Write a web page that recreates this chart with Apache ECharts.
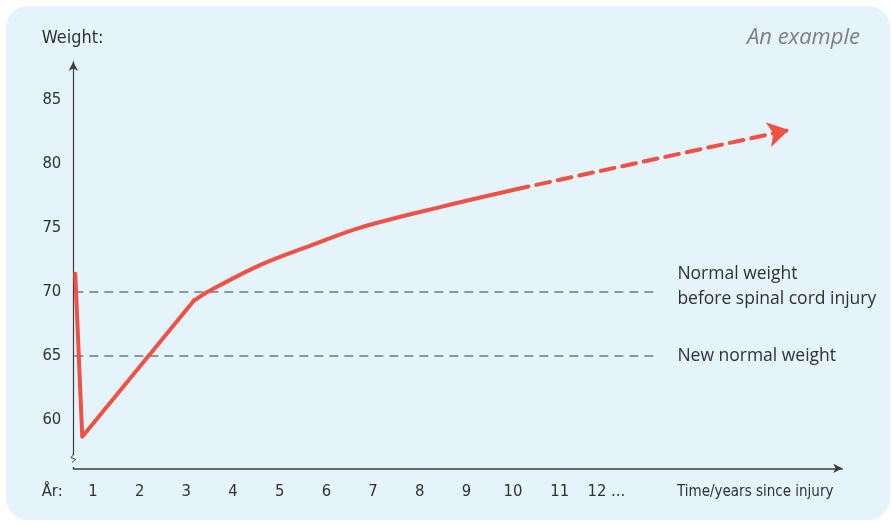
<!DOCTYPE html>
<html><head><meta charset="utf-8">
<script src="https://cdn.jsdelivr.net/npm/echarts@6/dist/echarts.min.js"></script>
<style>
html,body{margin:0;padding:0;background:#fff;overflow:hidden;}
#panel{position:absolute;left:6px;top:6px;width:884px;height:514px;background:#E5F4FB;border-radius:22px;}
#chart{position:absolute;left:0;top:0;width:892px;height:525px;}
</style></head><body>
<div id="panel"></div><div id="chart"></div>
<script>
// ---- data ----
const tickYears = [1, 2, 3, 4, 5, 6, 7, 8, 9, 10, 11, 12];
const tickWeights = [60, 65, 70, 75, 80, 85];
const dropYears = [0.62, 0.77, 3.16];
const dropWeights = [71.4, 58.7, 69.3];
const recoveryYears = [3.16, 3.51, 4.59, 5.66, 6.73, 8.44, 10.33];
const recoveryWeights = [69.3, 70.1, 72.1, 73.6, 75.0, 76.6, 78.2];
const trendYears = [10.33, 15.91];
const trendWeights = [78.2, 82.6];
const referenceWeights = [70, 65];
const referenceLabels = ['Normal weight\nbefore spinal cord injury', 'New normal weight'];
const referenceYears = [0.6, 13.05];
const yearRange = [0.578, 17.055];
const weightRange = [56.24, 87.93];

const RED = '#EF5145';
const INK = '#2f3133';
const NARROW = "'Liberation Sans Narrow','DejaVu Sans Condensed','Roboto Condensed',sans-serif";
const BG = '#E5F4FB';

const chart = echarts.init(document.getElementById('chart'), null, {renderer: 'canvas'});

const zip = (xs, ys) => xs.map((x, i) => [x, ys[i]]);

const option = {
  animation: false,
  backgroundColor: 'transparent',
  grid: {left: 73.3, right: 49.7, top: 61.7, bottom: 56.7, containLabel: false},
  xAxis: {
    type: 'value', min: yearRange[0], max: yearRange[1],
    axisLine: {show: true, symbol: ['none', 'arrow'], symbolSize: [7, 9], lineStyle: {color: '#3a3c3e', width: 1.5}},
    axisTick: {show: false},
    splitLine: {show: false},
    axisLabel: {
      customValues: tickYears, color: INK, fontFamily: NARROW, fontSize: 16.5, margin: 15,
      formatter: v => v === tickYears[tickYears.length - 1] ? v + ' ...' : String(v)
    }
  },
  yAxis: {
    type: 'value', min: weightRange[0], max: weightRange[1],
    axisLine: {show: true, symbol: ['none', 'arrow'], symbolSize: [7, 9], lineStyle: {color: '#3a3c3e', width: 1.2}},
    axisTick: {show: false},
    splitLine: {show: false},
    axisLabel: {customValues: tickWeights, color: INK, fontFamily: NARROW, fontSize: 16.5, margin: 12}
  },
  graphic: [
    {type: 'text', x: 41.7, y: 38.5, style: {text: 'Weight:', font: "18px " + NARROW, fill: INK, textVerticalAlign: 'middle'}},
    {type: 'text', x: 860, y: 38, style: {text: 'An example', font: "italic 22px 'Open Sans',sans-serif", fill: '#7d7f82', textAlign: 'right', textVerticalAlign: 'middle'}},
    {type: 'text', x: 41.7, y: 492, style: {text: 'År:', font: "16.5px " + NARROW, fill: INK, textVerticalAlign: 'middle'}},
    {type: 'text', x: 677, y: 492, style: {text: 'Time/years since injury', font: "15px " + NARROW, fill: INK, textVerticalAlign: 'middle'}},
    {type: 'rect', z: 100, shape: {x: 69, y: 455, width: 8, height: 12}, style: {fill: BG}},
    {type: 'polyline', z: 101, shape: {points: [[73.3, 453], [73.3, 455], [71, 457.5], [75.5, 459.5], [72, 462.5]]}, style: {stroke: '#3a3c3e', lineWidth: 1, fill: null}}
  ],
  series: [
    {
      type: 'line', data: zip(dropYears, dropWeights), smooth: false, symbol: 'none', z: 5,
      lineStyle: {color: RED, width: 4, cap: 'round', join: 'round'}, silent: true
    },
    {
      type: 'line', data: zip(recoveryYears, recoveryWeights), smooth: 0.35, symbol: 'none', z: 5,
      lineStyle: {color: RED, width: 4, cap: 'round', join: 'round'}, silent: true,
      markLine: {
        silent: true, symbol: ['none', 'none'], animation: false,
        lineStyle: {color: '#737880', width: 1.5, type: [9, 6]},
        label: {show: true, position: 'end', distance: 22, color: INK, fontFamily: "'Open Sans',sans-serif", fontSize: 17.5, lineHeight: 25, align: 'left'},
        emphasis: {disabled: true},
        data: referenceWeights.map((w, i) => [
          {coord: [referenceYears[0], w], label: {formatter: referenceLabels[i], offset: i === 0 ? [0, -5] : [0, 0]}},
          {coord: [referenceYears[1], w]}
        ])
      }
    },
    {
      type: 'line', data: [], symbol: 'none', silent: true,
      markLine: {
        silent: true, animation: false,
        symbol: ['none', 'arrow'], symbolSize: [19, 21],
        lineStyle: {color: RED, width: 4, type: [14, 8], dashOffset: 14, cap: 'round'},
        label: {show: false},
        emphasis: {disabled: true},
        data: [[{coord: [trendYears[0], trendWeights[0]]}, {coord: [trendYears[1], trendWeights[1]]}]]
      }
    }
  ]
};
chart.setOption(option);
</script>
</body></html>
